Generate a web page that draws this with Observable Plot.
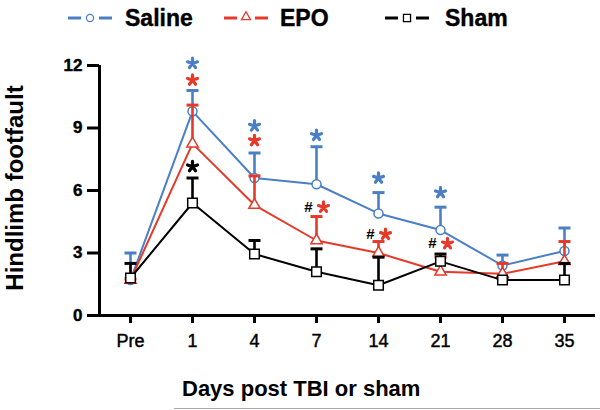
<!DOCTYPE html>
<html>
<head>
<meta charset="utf-8">
<script src="https://cdn.jsdelivr.net/npm/d3@7"></script>
<script src="https://cdn.jsdelivr.net/npm/@observablehq/plot@0.6"></script>
<style>
  html, body { margin: 0; padding: 0; background: #fff; }
  #wrap { position: relative; width: 600px; height: 410px; font-family: "Liberation Sans", Arial, Helvetica, sans-serif; overflow: hidden; }
  #legend { position: absolute; left: 0; top: 0; }
  #chart { position: absolute; left: 0; top: 40px; }
  #ytitle { position: absolute; left: 15px; top: 188px; transform: translate(-50%, -50%) rotate(-90deg); font-weight: bold; font-size: 24px; white-space: nowrap; color: #000; }
  #xtitle { position: absolute; left: 182px; top: 376px; font-weight: bold; font-size: 22px; white-space: nowrap; color: #000; }
  #edge { position: absolute; left: 174px; top: 408px; width: 426px; height: 1px; background: #a8a8a8; }
  #chart g[aria-label="x-axis tick label"] text, #chart g[aria-label="y-axis tick label"] text { stroke: #000; stroke-width: 0.45px; }
  #legend text { stroke: #000; stroke-width: 0.4px; }
</style>
</head>
<body>
<div id="wrap">
  <svg id="legend" width="600" height="40"></svg>
  <div id="chart"></div>
  <div id="ytitle">Hindlimb footfault</div>
  <div id="xtitle">Days post TBI or sham</div>
  <div id="edge"></div>
</div>
<script>
// ---- data ----
const days = ["Pre", "1", "4", "7", "14", "21", "28", "35"];
const seriesNames = ["Saline", "EPO", "Sham"];
const seriesColors = ["#4a7fc6", "#e5392a", "#000000"];
const seriesSymbols = ["circle", "triangle", "square"];

const salineMean = [1.7, 9.8, 6.6, 6.3, 4.9, 4.1, 2.4, 3.1];
const salineSem  = [1.3, 1.0, 1.2, 1.8, 1.0, 1.1, 0.5, 1.1];
const epoMean    = [1.7, 8.25, 5.3, 3.6, 3.0, 2.1, 2.0, 2.6];
const epoSem     = [0.05, 1.85, 1.4, 1.15, 0.55, 0.7, 0.5, 0.95];
const shamMean   = [1.8, 5.4, 2.95, 2.1, 1.45, 2.6, 1.7, 1.7];
const shamSem    = [0.7, 1.2, 0.65, 1.1, 1.35, 0.35, 0.1, 0.8];

const yTicks = [0, 3, 6, 9, 12];

// significance markers (day index, y value)
const salineStarDay = [1, 2, 3, 4, 5];
const salineStarY   = [12.1, 9.1, 8.65, 6.6, 5.9];
const epoStarDay    = [1, 2];
const epoStarY      = [11.3, 8.4];
const shamStarDay   = [1];
const shamStarY     = [7.15];
const hashDay       = [3, 4, 5];
const hashY         = [5.2, 3.9, 3.45];

// ---- build tables ----
const means = [salineMean, epoMean, shamMean];
const sems = [salineSem, epoSem, shamSem];
const tables = seriesNames.map((name, s) =>
  days.map((d, i) => ({ series: name, i, mean: means[s][i], top: means[s][i] + sems[s][i] }))
);
const toPts = (dayArr, yArr) => dayArr.map((i, k) => ({ i, y: yArr[k] }));

const capSymbol = {
  draw(context, size) {
    const w = Math.sqrt(size / Math.PI);
    context.moveTo(-w, 0);
    context.lineTo(w, 0);
  }
};
const asteriskSymbol = {
  draw(context, size) {
    const r = Math.sqrt(size / Math.PI);
    for (let k = 0; k < 5; k++) {
      const a = -Math.PI / 2 + k * 2 * Math.PI / 5;
      context.moveTo(0, 0);
      context.lineTo(r * Math.cos(a), r * Math.sin(a));
    }
  }
};

const marks = [];
const symR = { circle: 4.5, triangle: 4.2, square: 5.4 };
tables.forEach((rows, s) => {
  const c = seriesColors[s];
  marks.push(Plot.ruleX(rows, { x: "i", y1: "mean", y2: "top", stroke: c, strokeWidth: 2.6 }));
  marks.push(Plot.dot(rows, { x: "i", y: "top", symbol: capSymbol, r: 6, fill: "none", stroke: c, strokeWidth: 3 }));
  marks.push(Plot.line(rows, { x: "i", y: "mean", stroke: c, strokeWidth: 2 }));
  marks.push(Plot.dot(rows, { x: "i", y: "mean", symbol: seriesSymbols[s], r: symR[seriesSymbols[s]], fill: "white", stroke: c, strokeWidth: 1.5 }));
});

const starOpts = { symbol: asteriskSymbol, r: 5.2, fill: "none", strokeWidth: 3.2, strokeLinecap: "round" };
marks.push(Plot.dot(toPts(salineStarDay, salineStarY), { x: "i", y: "y", stroke: seriesColors[0], ...starOpts }));
marks.push(Plot.dot(toPts(epoStarDay, epoStarY), { x: "i", y: "y", stroke: seriesColors[1], ...starOpts }));
marks.push(Plot.dot(toPts(shamStarDay, shamStarY), { x: "i", y: "y", stroke: seriesColors[2], ...starOpts }));
marks.push(Plot.dot(toPts(hashDay, hashY), { x: "i", y: "y", stroke: seriesColors[1], ...starOpts, dx: 7 }));
marks.push(Plot.text(toPts(hashDay, hashY), { x: "i", y: "y", fill: "#000", text: () => "#", fontSize: 15, fontWeight: "bold", dx: -8, dy: 0 }));

// axes
marks.push(Plot.ruleY([0], { stroke: "#000", strokeWidth: 3 }));
marks.push(Plot.ruleX([-0.5], { stroke: "#000", strokeWidth: 3 }));
marks.push(Plot.axisY({ ticks: yTicks, tickSize: 12, tickPadding: 5, strokeWidth: 3, fontSize: 17, fontWeight: "bold", label: null }));
marks.push(Plot.axisX({ ticks: d3.range(days.length), tickFormat: i => days[i], tickSize: 8, tickPadding: 11, strokeWidth: 3, fontSize: 18, label: null }));

const chart = Plot.plot({
  width: 600,
  height: 320,
  marginLeft: 99,
  marginRight: 5,
  marginTop: 25,
  marginBottom: 45,
  style: { fontFamily: "Liberation Sans, Arial, sans-serif", background: "white", overflow: "visible" },
  x: { type: "linear", domain: [-0.5, days.length - 0.5] },
  y: { domain: [0, 12] },
  marks
});
document.getElementById("chart").appendChild(chart);

// ---- legend ----
const leg = d3.select("#legend");
const legMarkerX = [90, 246, 407];
const legTextX = [125, 280, 445];
seriesNames.forEach((name, s) => {
  const c = seriesColors[s];
  const cx = legMarkerX[s], cy = 18;
  const g = leg.append("g");
  g.append("line").attr("x1", cx - 22).attr("x2", cx - 9).attr("y1", cy).attr("y2", cy).attr("stroke", c).attr("stroke-width", 3);
  g.append("line").attr("x1", cx + 9).attr("x2", cx + 22).attr("y1", cy).attr("y2", cy).attr("stroke", c).attr("stroke-width", 3);
  const sym = d3.symbol().type(s === 0 ? d3.symbolCircle : s === 1 ? d3.symbolTriangle : d3.symbolSquare).size(s === 0 ? 40 : s === 1 ? 36 : 50);
  g.append("path").attr("d", sym()).attr("transform", `translate(${cx},${s === 1 ? cy - 1 : cy})`).attr("fill", "white").attr("stroke", c).attr("stroke-width", 1.3);
  g.append("text").attr("x", legTextX[s]).attr("y", 26).attr("font-size", 23).attr("font-weight", "bold")
    .attr("font-family", "Liberation Sans, Arial, sans-serif").attr("fill", "#000").text(name);
});
</script>
</body>
</html>
